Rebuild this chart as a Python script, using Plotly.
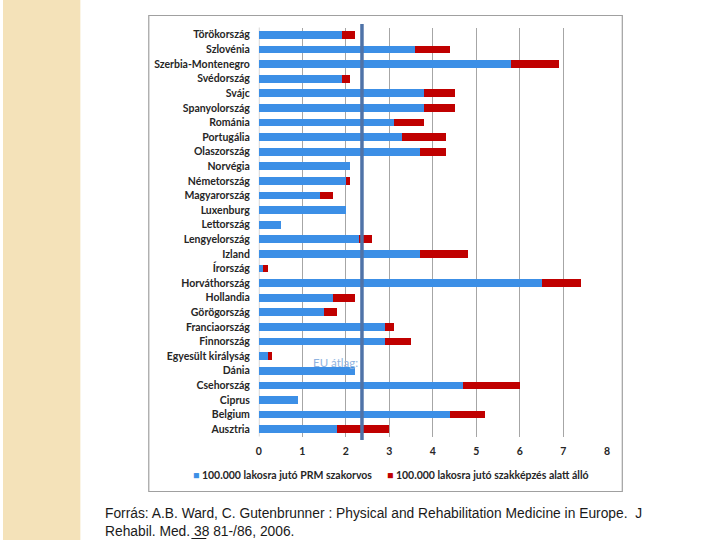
import plotly.graph_objects as go

countries = ["Ausztria", "Belgium", "Ciprus", "Csehország", "Dánia", "Egyesült királyság",
             "Finnország", "Franciaország", "Görögország", "Hollandia", "Horváthország",
             "Írország", "Izland", "Lengyelország", "Lettország", "Luxenburg", "Magyarország",
             "Németország", "Norvégia", "Olaszország", "Portugália", "Románia", "Spanyolország",
             "Svájc", "Svédország", "Szerbia-Montenegro", "Szlovénia", "Törökország"]
prm = [1.8, 4.4, 0.9, 4.7, 2.2, 0.2, 2.9, 2.9, 1.5, 1.7, 6.5, 0.1, 3.7, 2.3, 0.5, 2.0, 1.4,
       2.0, 2.1, 3.7, 3.3, 3.1, 3.8, 3.8, 1.9, 5.8, 3.6, 1.9]
trainee = [1.2, 0.8, 0.0, 1.3, 0.0, 0.1, 0.6, 0.2, 0.3, 0.5, 0.9, 0.1, 1.1, 0.3, 0.0, 0.0, 0.3,
           0.1, 0.0, 0.6, 1.0, 0.7, 0.7, 0.7, 0.2, 1.1, 0.8, 0.3]
eu_avg = 2.37
x_ticks = [0, 1, 2, 3, 4, 5, 6, 7, 8]
series_names = ["100.000 lakosra jutó PRM szakorvos", "100.000 lakosra jutó szakképzés alatt álló"]
colors = ["#3c8fe6", "#c00000"]

W, H = 720, 540
def px(x):
    return x / W
def py(y):
    return 1 - y / H

fig = go.Figure()
fig.add_trace(go.Bar(y=countries, x=prm, orientation="h", name=series_names[0],
                     marker=dict(color=colors[0], line=dict(width=0)), width=0.53))
fig.add_trace(go.Bar(y=countries, x=trainee, orientation="h", name=series_names[1],
                     marker=dict(color=colors[1], line=dict(width=0)), width=0.53))

font_lbl = "Lato, 'Open Sans', sans-serif"

fig.update_layout(
    width=W, height=H, barmode="stack",
    margin=dict(l=0, r=0, t=0, b=0),
    paper_bgcolor="white", plot_bgcolor="white",
    showlegend=False,
    xaxis=dict(domain=[px(258), px(609)], range=[0, 8], tickvals=x_ticks,
               showgrid=True, gridcolor="#a6a6a6", gridwidth=1, zeroline=False,
               showline=False, ticks="", ticklabelstandoff=7,
               tickfont=dict(family=font_lbl, size=10.5, color="#262626", weight="bold")),
    yaxis=dict(domain=[py(436.5), py(27.5)], categoryorder="array", categoryarray=countries,
               showgrid=False, zeroline=False, showline=False, ticks="",
               ticklabelstandoff=8, range=[-0.5, len(countries) - 0.5],
               tickfont=dict(family=font_lbl, size=10.5, color="#262626", weight="bold")),
    font=dict(family=font_lbl),
)

shapes = [
    dict(type="rect", xref="paper", yref="paper", x0=0, x1=px(78), y0=0, y1=1,
         fillcolor="#f4e2b9", line=dict(width=0), layer="below"),
    dict(type="rect", xref="paper", yref="paper", x0=px(147), x1=px(624.5), y0=py(491.5), y1=py(15.5),
         fillcolor="rgba(0,0,0,0)", line=dict(color="#a0a0a0", width=1.2)),
    dict(type="line", xref="x", yref="paper", x0=0, x1=0, y0=py(436.5), y1=py(27.5),
         line=dict(color="#a6a6a6", width=1), layer="below"),
    dict(type="line", xref="x", yref="paper", x0=eu_avg, x1=eu_avg, y0=py(440), y1=py(24),
         line=dict(color="#4f73a8", width=3.5)),
    dict(type="line", xref="paper", yref="paper", x0=px(190), x1=px(205), y0=py(538.5), y1=py(538.5),
         line=dict(color="#1a1a1a", width=1)),
]
fig.update_layout(shapes=shapes)

leg_x = [190, 385]
for name, col, lx in zip(series_names, colors, leg_x):
    fig.add_annotation(x=px(lx), y=py(475), xref="paper", yref="paper", xanchor="left", yanchor="middle",
                       showarrow=False,
                       text=f"<span style='color:{col}'>■</span> {name}",
                       font=dict(family=font_lbl, size=10.5, color="#262626", weight="bold"))

fig.add_annotation(x=eu_avg - 0.05, y="Egyesült királyság", xref="x", yref="y", yshift=-6,
                   text="EU átlag:", showarrow=False, xanchor="right",
                   font=dict(family=font_lbl, size=11.5, color="#8fb3e0"))

fig.add_annotation(x=px(101), y=py(504), xref="paper", yref="paper", xanchor="left", yanchor="top",
                   align="left", showarrow=False,
                   text="Forrás: A.B. Ward, C. Gutenbrunner : Physical and Rehabilitation Medicine in Europe.  J<br>"
                        "Rehabil. Med. 38 81-/86, 2006.",
                   font=dict(family="Liberation Sans, Arial, sans-serif", size=13.8, color="#1a1a1a"))

fig.write_html("out.html", config={"displayModeBar": False},
               post_script="document.body.style.margin='0';document.body.style.overflow='hidden';")
